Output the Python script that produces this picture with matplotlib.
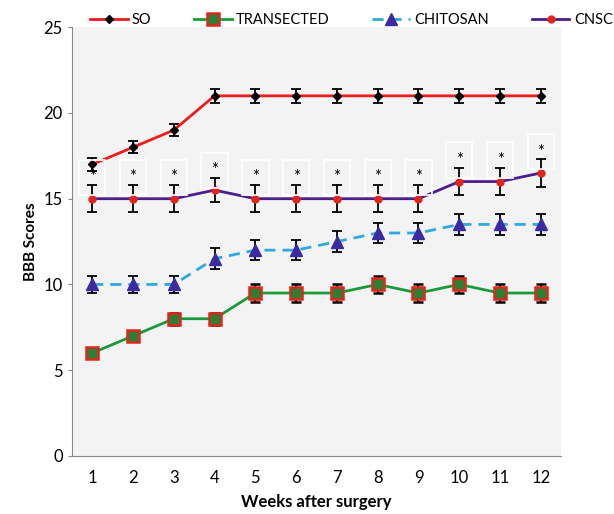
import numpy as np
import matplotlib
matplotlib.use("Agg")
import matplotlib.pyplot as plt
from matplotlib.lines import Line2D

plt.rcParams["font.family"] = ["Lato", "DejaVu Sans"]

weeks = np.arange(1, 13)
so = [17, 18, 19, 21, 21, 21, 21, 21, 21, 21, 21, 21]
so_err = [0.4, 0.35, 0.35, 0.4, 0.4, 0.4, 0.4, 0.4, 0.4, 0.4, 0.4, 0.4]
trans = [6, 7, 8, 8, 9.5, 9.5, 9.5, 10, 9.5, 10, 9.5, 9.5]
trans_err = [0.2, 0.3, 0.35, 0.35, 0.5, 0.5, 0.5, 0.5, 0.5, 0.5, 0.5, 0.5]
chito = [10, 10, 10, 11.5, 12, 12, 12.5, 13, 13, 13.5, 13.5, 13.5]
chito_err = [0.5, 0.5, 0.5, 0.6, 0.6, 0.6, 0.6, 0.6, 0.6, 0.6, 0.6, 0.6]
cnsc = [15, 15, 15, 15.5, 15, 15, 15, 15, 15, 16, 16, 16.5]
cnsc_err = [0.8, 0.8, 0.8, 0.7, 0.8, 0.8, 0.8, 0.8, 0.8, 0.8, 0.8, 0.8]

fig = plt.figure(figsize=(6.14, 5.14), dpi=100)
ax = fig.add_axes([0.117, 0.113, 0.797, 0.834])
ax.set_facecolor("#f3f3f3")

styles = {
    "SO": dict(color="#ee1c1c", lw=2, marker="D", ms=4, mfc="black", mec="black"),
    "TRANSECTED": dict(color="#1a9a3a", lw=2, marker="s", ms=8, mfc="#2e7d32",
                       mec="#e0261c", mew=1.8),
    "CHITOSAN": dict(color="#2fa8e0", lw=2, ls=(0, (4, 2.5)), marker="^", ms=8,
                     mfc="#3b2aa0", mec="#3b2aa0"),
    "CNSC": dict(color="#4a1f8c", lw=2, marker="o", ms=5, mfc="#e0261c",
                 mec="#e0261c"),
}

ebkw = dict(ecolor="black", elinewidth=1.3, capsize=3.5, capthick=1.3)
ax.errorbar(weeks, trans, yerr=trans_err, **styles["TRANSECTED"], **ebkw)
ax.errorbar(weeks, chito, yerr=chito_err, **styles["CHITOSAN"], **ebkw)
ax.errorbar(weeks, cnsc, yerr=cnsc_err, **styles["CNSC"], **ebkw)
ax.errorbar(weeks, so, yerr=so_err, **styles["SO"], **ebkw)

for w, v, e in zip(weeks, cnsc, cnsc_err):
    ax.text(w, v + e + 0.45, "*", ha="center", va="center", fontsize=12,
            bbox=dict(fc="none", ec="white", lw=1.2, pad=7))

ax.set_xlim(0.5, 12.5)
ax.set_ylim(0, 25)
ax.set_xticks(weeks)
ax.set_yticks(np.arange(0, 26, 5))
ax.tick_params(axis="both", labelsize=12, length=3, color="#888888")
ax.tick_params(axis="x", length=0, pad=10)
for s in ("top", "right"):
    ax.spines[s].set_visible(False)
for s in ("left", "bottom"):
    ax.spines[s].set_color("#888888")
ax.set_ylabel("BBB Scores", fontsize=11, fontweight="bold")
ax.set_xlabel("Weeks after surgery", fontsize=12, fontweight="bold", labelpad=6)

names = ["SO", "TRANSECTED", "CHITOSAN", "CNSC"]
handles = [Line2D([], [], **styles[n]) for n in names]
fig.legend(handles, names, ncol=4, frameon=False,
           loc="upper center", bbox_to_anchor=(0.572, 1.0), fontsize=10.5,
           handlelength=2.6, columnspacing=2.9, handletextpad=0.3)

fig.savefig("out.png", dpi=100)
